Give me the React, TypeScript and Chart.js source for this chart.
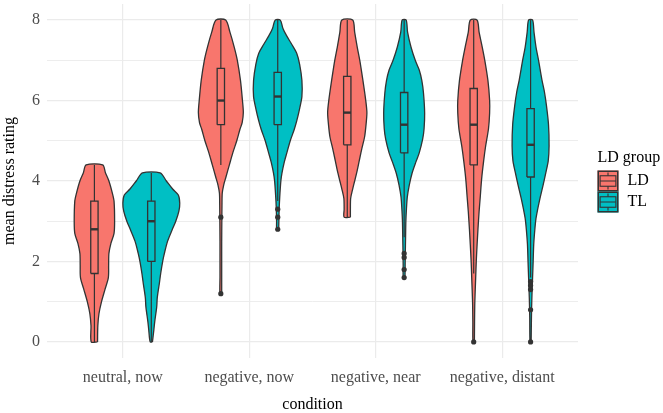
import React, { useEffect, useRef } from 'react';
import { Chart, registerables } from 'chart.js';

Chart.register(...registerables);

// ---------- data ----------
const categories = ['neutral, now', 'negative, now', 'negative, near', 'negative, distant'];
const groups = ['LD', 'TL'];
const groupColors = ['#F8766D', '#00BFC4'];
const yTickValues = [0, 2, 4, 6, 8];
const xAxisTitle = 'condition';
const yAxisTitle = 'mean distress rating';
const legendTitle = 'LD group';

// Violin density profiles: rating levels (Y) and relative density (D, 1 = widest violin)
const neutralNowLdY = [0, 0.4, 0.7, 1.0, 1.3, 1.6, 1.9, 2.2, 2.45, 2.7, 3.0, 3.5, 3.7, 4.0, 4.2, 4.4];
const neutralNowLdD = [0.11, 0.12, 0.16, 0.25, 0.37, 0.49, 0.5, 0.51, 0.58, 0.69, 0.71, 0.69, 0.63, 0.51, 0.39, 0.29];
const neutralNowTlY = [0, 0.3, 0.5, 0.87, 1.1, 1.44, 1.7, 2.0, 2.2, 2.5, 2.8, 3.0, 3.25, 3.45, 3.65, 3.8, 4.0, 4.2];
const neutralNowTlD = [0.04, 0.09, 0.12, 0.19, 0.21, 0.28, 0.33, 0.4, 0.46, 0.57, 0.74, 0.86, 0.97, 1.0, 0.95, 0.75, 0.53, 0.31];

const negNowLdY = [1.2, 1.6, 2.0, 2.5, 3.0, 3.4, 3.7, 3.9, 4.1, 4.4, 4.7, 5.0, 5.28, 5.45, 5.7, 6.0, 6.5, 7.0, 7.33, 7.7, 8.0];
const negNowLdD = [0.03, 0.03, 0.03, 0.03, 0.035, 0.04, 0.05, 0.1, 0.18, 0.3, 0.42, 0.56, 0.67, 0.75, 0.79, 0.76, 0.69, 0.58, 0.47, 0.32, 0.17];
const negNowTlY = [2.8, 3.0, 3.3, 3.6, 4.0, 4.2, 4.47, 4.7, 5.0, 5.28, 5.5, 5.8, 6.1, 6.5, 6.9, 7.17, 7.4, 7.6, 7.8, 8.0];
const negNowTlD = [0.035, 0.04, 0.05, 0.07, 0.11, 0.15, 0.23, 0.32, 0.44, 0.58, 0.67, 0.77, 0.85, 0.85, 0.77, 0.67, 0.49, 0.32, 0.18, 0.09];

const negNearLdY = [3.1, 3.3, 3.57, 3.8, 4.0, 4.2, 4.5, 4.8, 5.1, 5.4, 5.7, 6.0, 6.5, 7.0, 7.33, 7.7, 8.0];
const negNearLdD = [0.11, 0.11, 0.12, 0.19, 0.26, 0.33, 0.42, 0.51, 0.61, 0.66, 0.69, 0.65, 0.55, 0.44, 0.35, 0.26, 0.19];
const negNearTlY = [1.6, 1.9, 2.2, 2.6, 3.0, 3.3, 3.6, 3.9, 4.2, 4.47, 4.7, 5.04, 5.3, 5.69, 6.18, 6.5, 6.76, 7.0, 7.33, 7.7, 8.0];
const negNearTlD = [0.03, 0.035, 0.04, 0.05, 0.06, 0.08, 0.11, 0.18, 0.28, 0.41, 0.53, 0.65, 0.7, 0.72, 0.68, 0.62, 0.53, 0.39, 0.24, 0.12, 0.07];

const negDistantLdY = [0, 0.5, 1.0, 1.6, 2.0, 2.42, 2.8, 3.24, 3.6, 4.06, 4.5, 4.87, 5.3, 5.69, 6.0, 6.5, 7.0, 7.33, 7.7, 8.0];
const negDistantLdD = [0.025, 0.03, 0.04, 0.07, 0.09, 0.12, 0.15, 0.19, 0.23, 0.28, 0.35, 0.42, 0.52, 0.56, 0.56, 0.5, 0.39, 0.3, 0.19, 0.12];
const negDistantTlY = [0, 0.6, 1.1, 1.6, 2.0, 2.42, 2.8, 3.07, 3.3, 3.57, 3.9, 4.22, 4.5, 4.87, 5.4, 5.86, 6.2, 6.51, 7.0, 7.33, 7.7, 8.0];
const negDistantTlD = [0.02, 0.03, 0.045, 0.07, 0.09, 0.11, 0.15, 0.19, 0.25, 0.33, 0.44, 0.54, 0.62, 0.65, 0.63, 0.56, 0.49, 0.4, 0.28, 0.19, 0.12, 0.07];

// Box statistics: [lower whisker, Q1, median, Q3, upper whisker]
const neutralNowLdBox = [0, 1.7, 2.8, 3.5, 4.4];
const neutralNowTlBox = [0, 2.0, 3.0, 3.5, 4.2];
const negNowLdBox = [4.4, 5.4, 6.0, 6.8, 8.0];
const negNowTlBox = [3.5, 5.4, 6.1, 6.7, 8.0];
const negNearLdBox = [3.1, 4.9, 5.7, 6.6, 8.0];
const negNearTlBox = [2.6, 4.7, 5.4, 6.2, 8.0];
const negDistantLdBox = [1.7, 4.4, 5.4, 6.3, 8.0];
const negDistantTlBox = [1.6, 4.1, 4.9, 5.8, 8.0];

// Outliers
const neutralNowLdOut: number[] = [];
const neutralNowTlOut: number[] = [];
const negNowLdOut = [3.1, 1.2];
const negNowTlOut = [3.3, 3.1, 2.8];
const negNearLdOut: number[] = [];
const negNearTlOut = [2.2, 2.1, 1.8, 1.6];
const negDistantLdOut = [0];
const negDistantTlOut = [1.5, 1.4, 1.3, 0.8, 0];

// ---------- build ----------
const FONT = "'Liberation Serif', 'Times New Roman', serif";
const OUTLINE = '#333333';
const VIOLIN_HALF = 0.225; // half of dodge slot (0.9 / 2 groups / 2)
const BOX_HALF = 0.029;

const violins = [
  { cat: 0, grp: 0, ys: neutralNowLdY, ds: neutralNowLdD, box: neutralNowLdBox, out: neutralNowLdOut },
  { cat: 0, grp: 1, ys: neutralNowTlY, ds: neutralNowTlD, box: neutralNowTlBox, out: neutralNowTlOut },
  { cat: 1, grp: 0, ys: negNowLdY, ds: negNowLdD, box: negNowLdBox, out: negNowLdOut },
  { cat: 1, grp: 1, ys: negNowTlY, ds: negNowTlD, box: negNowTlBox, out: negNowTlOut },
  { cat: 2, grp: 0, ys: negNearLdY, ds: negNearLdD, box: negNearLdBox, out: negNearLdOut },
  { cat: 2, grp: 1, ys: negNearTlY, ds: negNearTlD, box: negNearTlBox, out: negNearTlOut },
  { cat: 3, grp: 0, ys: negDistantLdY, ds: negDistantLdD, box: negDistantLdBox, out: negDistantLdOut },
  { cat: 3, grp: 1, ys: negDistantTlY, ds: negDistantTlD, box: negDistantTlBox, out: negDistantTlOut },
];

function buildDatasets() {
  const sets: any[] = [];
  violins.forEach((v) => {
    const c = v.cat + 1 + (v.grp === 0 ? -VIOLIN_HALF : VIOLIN_HALF);
    const color = groupColors[v.grp];
    const pts: { x: number; y: number }[] = [];
    for (let i = 0; i < v.ys.length; i++) pts.push({ x: c + v.ds[i] * VIOLIN_HALF, y: v.ys[i] });
    for (let i = v.ys.length - 1; i >= 0; i--) pts.push({ x: c - v.ds[i] * VIOLIN_HALF, y: v.ys[i] });
    pts.push({ ...pts[0] });
    sets.push({
      data: pts, showLine: true, fill: 'shape', backgroundColor: color, borderColor: OUTLINE,
      borderWidth: 1.3, pointRadius: 0, tension: 0.28, order: 5,
    });
    const [lo, q1, med, q3, hi] = v.box;
    sets.push({
      data: [{ x: c - BOX_HALF, y: q1 }, { x: c + BOX_HALF, y: q1 }, { x: c + BOX_HALF, y: q3 }, { x: c - BOX_HALF, y: q3 }, { x: c - BOX_HALF, y: q1 }],
      showLine: true, fill: 'shape', backgroundColor: color, borderColor: OUTLINE, borderWidth: 1.3,
      pointRadius: 0, tension: 0, order: 4,
    });
    sets.push({
      data: [{ x: c, y: q3 }, { x: c, y: hi }], showLine: true, fill: false, borderColor: OUTLINE,
      borderWidth: 1.2, pointRadius: 0, order: 3,
    });
    sets.push({
      data: [{ x: c, y: q1 }, { x: c, y: lo }], showLine: true, fill: false, borderColor: OUTLINE,
      borderWidth: 1.2, pointRadius: 0, order: 3,
    });
    sets.push({
      data: [{ x: c - BOX_HALF, y: med }, { x: c + BOX_HALF, y: med }], showLine: true, fill: false,
      borderColor: OUTLINE, borderWidth: 2.4, pointRadius: 0, order: 2,
    });
    if (v.out.length) {
      sets.push({
        data: v.out.map((y) => ({ x: c, y })), showLine: false, pointRadius: 2.6,
        pointBackgroundColor: OUTLINE, pointBorderColor: OUTLINE, pointBorderWidth: 0, order: 1,
      });
    }
  });
  return sets;
}

const legendPlugin = {
  id: 'ggLegend',
  afterDraw(chart: any) {
    const { ctx, chartArea } = chart;
    const x0 = chartArea.right + 19.5;
    const midY = (chartArea.top + chartArea.bottom) / 2;
    const s = 21;
    const top = midY - 29.5;
    ctx.save();
    ctx.font = `16px ${FONT}`;
    ctx.textBaseline = 'middle';
    ctx.textAlign = 'left';
    ctx.fillStyle = '#000';
    ctx.fillText(legendTitle, x0, top + 6);
    groups.forEach((g, i) => {
      const ky = top + 19 + i * s;
      ctx.fillStyle = groupColors[i];
      ctx.fillRect(x0, ky, s, s);
      ctx.strokeStyle = OUTLINE;
      ctx.lineWidth = 1.5;
      ctx.strokeRect(x0 + 0.75, ky + 0.75, s - 1.5, s - 1.5);
      ctx.lineWidth = 1.1;
      ctx.beginPath();
      ctx.moveTo(x0 + s / 2, ky + s * 0.1);
      ctx.lineTo(x0 + s / 2, ky + s * 0.25);
      ctx.moveTo(x0 + s / 2, ky + s * 0.75);
      ctx.lineTo(x0 + s / 2, ky + s * 0.9);
      ctx.moveTo(x0 + s * 0.125, ky + s * 0.5);
      ctx.lineTo(x0 + s * 0.875, ky + s * 0.5);
      ctx.stroke();
      ctx.strokeRect(x0 + s * 0.125, ky + s * 0.25, s * 0.75, s * 0.5);
      ctx.fillStyle = '#000';
      ctx.fillText(g, x0 + s + 9, ky + s / 2);
    });
    ctx.restore();
  },
};

export default function App() {
  const ref = useRef<HTMLCanvasElement | null>(null);
  useEffect(() => {
    document.body.style.margin = '0';
    const minorTicks = yTickValues.slice(1).map((v, i) => (v + yTickValues[i]) / 2);
    const allY = [...yTickValues, ...minorTicks].sort((a, b) => a - b);
    const chart = new Chart(ref.current as HTMLCanvasElement, {
      type: 'scatter',
      data: { datasets: buildDatasets() },
      options: {
        animation: false,
        responsive: false,
        devicePixelRatio: 1,
        layout: { padding: { left: 0, right: 85, top: 0, bottom: 0 } },
        plugins: { legend: { display: false }, tooltip: { enabled: false } },
        scales: {
          x: {
            type: 'linear',
            min: 0.4,
            max: 4.6,
            afterBuildTicks: (s: any) => { s.ticks = categories.map((_, i) => ({ value: i + 1 })); },
            afterFit: (s: any) => { s.height = 55; s.paddingLeft = 0; s.paddingRight = 0; },
            ticks: {
              callback: (v: any) => categories[Math.round(Number(v)) - 1] ?? '',
              font: { family: FONT, size: 16 },
              color: '#4D4D4D',
              padding: 10,
              maxRotation: 0,
              autoSkip: false,
            },
            grid: { color: '#EBEBEB', lineWidth: 1.2, drawTicks: false },
            border: { display: false },
            title: {
              display: true, text: xAxisTitle, color: '#000',
              font: { family: FONT, size: 16, lineHeight: 1 }, padding: { top: 0, bottom: 0 },
            },
          },
          y: {
            type: 'linear',
            min: -0.4,
            max: 8.4,
            afterBuildTicks: (s: any) => { s.ticks = allY.map((v) => ({ value: v })); },
            afterFit: (s: any) => { s.width = 47; s.paddingTop = 0; s.paddingBottom = 0; },
            ticks: {
              callback: (v: any) => (yTickValues.includes(Number(v)) ? String(v) : ''),
              font: { family: FONT, size: 16 },
              color: '#4D4D4D',
              padding: 7,
              autoSkip: false,
            },
            grid: {
              color: '#EBEBEB',
              lineWidth: (ctx: any) => (yTickValues.includes(ctx.tick?.value) ? 1.2 : 0.9),
              drawTicks: false,
            },
            border: { display: false },
            title: {
              display: true, text: yAxisTitle, color: '#000',
              font: { family: FONT, size: 16 }, padding: { top: 0, bottom: 0 },
            },
          },
        },
      },
      plugins: [legendPlugin],
    } as any);
    return () => chart.destroy();
  }, []);
  return (
    <div style={{ position: 'absolute', left: 0, top: 0, width: 663, height: 413 }}>
      <canvas ref={ref} width={663} height={413} style={{ width: 663, height: 413, display: 'block' }} />
    </div>
  );
}
